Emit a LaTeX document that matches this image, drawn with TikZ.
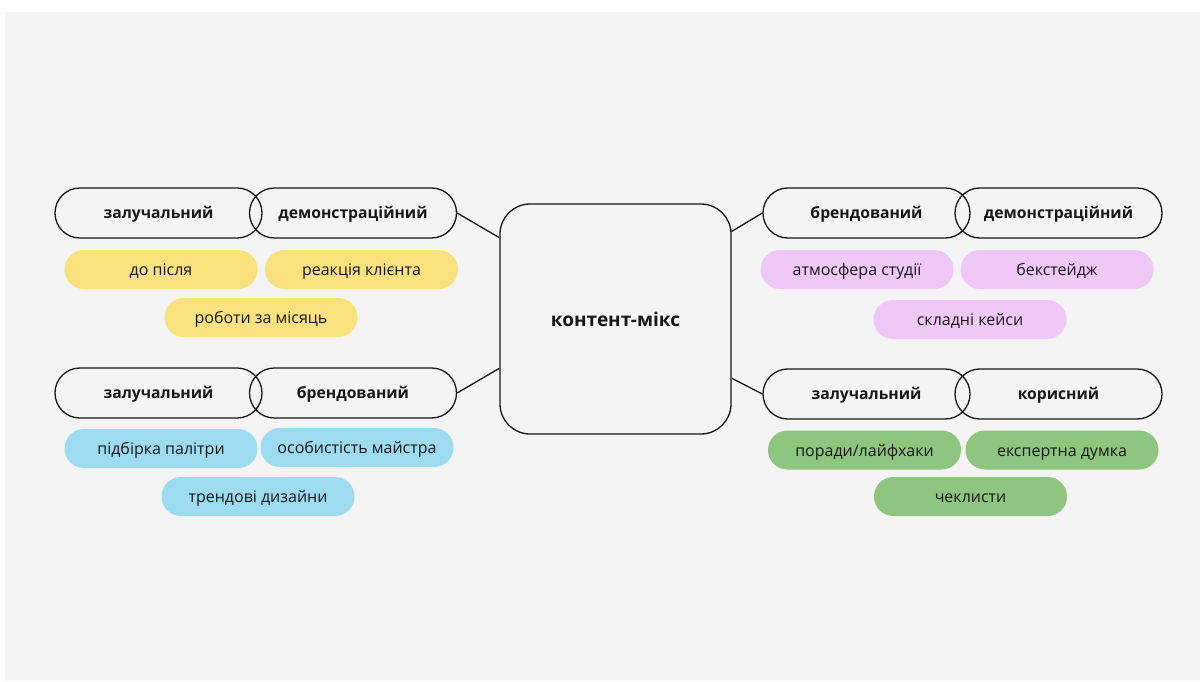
\documentclass[tikz,border=0pt]{standalone}
\usepackage{fontspec}
\setmainfont{Open Sans}
\definecolor{page}{HTML}{F4F4F4}
\definecolor{ink}{HTML}{181818}
\definecolor{tyellow}{HTML}{F9E27D}
\definecolor{tpink}{HTML}{F0C8F7}
\definecolor{tblue}{HTML}{9DDCF0}
\definecolor{tgreen}{HTML}{8EC57F}
\tikzset{
  typebox/.style={draw=ink, line width=1.3pt, rounded corners=24.9pt,
    minimum width=207pt, minimum height=50pt, inner sep=0pt,
    text height=12pt, text depth=1pt,
    text=ink, font=\fontsize{15.7}{18}\selectfont\bfseries},
  tagbox/.style={rounded corners=19.4pt, minimum width=193pt,
    minimum height=39pt, inner sep=0pt, text=ink,
    text height=12.5pt, text depth=0.5pt,
    font=\fontsize{16}{19}\selectfont},
  hub/.style={draw=ink, line width=1.3pt, rounded corners=30pt,
    minimum width=231pt, minimum height=230pt, inner sep=0pt,
    text=ink, font=\fontsize{19}{23}\selectfont\bfseries},
  link/.style={draw=ink, line width=1.3pt}
}
\begin{document}
\begin{tikzpicture}[x=1pt,y=-1pt]
\useasboundingbox (0,0) rectangle (1201,682);
\fill[white] (0,0) rectangle (1201,682);
\fill[page] (5,12) rectangle (1200,681);

% central hub
\node[hub] (mix) at (615.5,319) {контент-мікс};

% top-left: engaging + demonstrative
\node[typebox] (tl1) at (158.5,213) {залучальний};
\node[typebox] (tl2) at (353,213) {демонстраційний};
\node[tagbox, fill=tyellow] (tla) at (161,269.5) {до після};
\node[tagbox, fill=tyellow] (tlb) at (361.5,269.5) {реакція клієнта};
\node[tagbox, fill=tyellow] (tlc) at (261,317.5) {роботи за місяць};

% bottom-left: engaging + branded
\node[typebox] (bl1) at (158.5,393) {залучальний};
\node[typebox] (bl2) at (353,393) {брендований};
\node[tagbox, fill=tblue] (bla) at (161,448.5) {підбірка палітри};
\node[tagbox, fill=tblue] (blb) at (357,447.5) {особистість майстра};
\node[tagbox, fill=tblue] (blc) at (258,496.5) {трендові дизайни};

% top-right: branded + demonstrative
\node[typebox] (tr1) at (866.5,213) {брендований};
\node[typebox] (tr2) at (1058.5,213) {демонстраційний};
\node[tagbox, fill=tpink] (tra) at (857,269.5) {атмосфера студії};
\node[tagbox, fill=tpink] (trb) at (1057,269.5) {бекстейдж};
\node[tagbox, fill=tpink] (trc) at (970,319.5) {складні кейси};

% bottom-right: engaging + useful
\node[typebox] (br1) at (866.5,394) {залучальний};
\node[typebox] (br2) at (1058.5,394) {корисний};
\node[tagbox, fill=tgreen] (bra) at (864.5,450) {поради/лайфхаки};
\node[tagbox, fill=tgreen] (brb) at (1062,450) {експертна думка};
\node[tagbox, fill=tgreen] (brc) at (970.5,496.5) {чеклисти};

% connectors to the hub
\draw[link] (tl2.east) -- (mix.145.6);
\draw[link] (bl2.east) -- (mix.203);
\draw[link] (tr1.west) -- (mix.37.6);
\draw[link] (br1.west) -- (mix.333.3);
\end{tikzpicture}
\end{document}
